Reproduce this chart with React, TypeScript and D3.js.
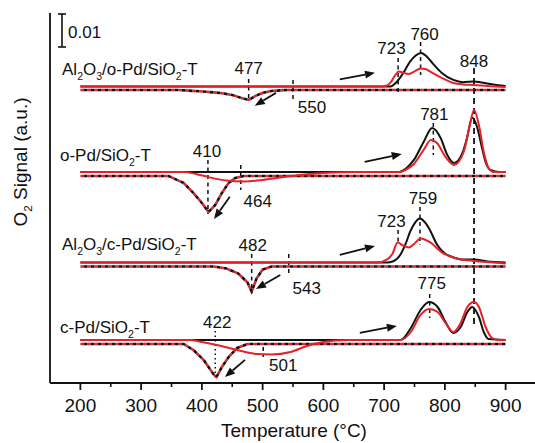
import React from "react";
import * as d3 from "d3";

type Pt = [number, number];

// ---------- axis ticks ----------
const MAJOR_TICKS = [200, 300, 400, 500, 600, 700, 800, 900];
const MINOR_TICKS = [250, 350, 450, 550, 650, 750, 850];

// ---------- sample names ----------
const SAMPLE_NAMES = ["Al2O3/o-Pd/SiO2-T", "o-Pd/SiO2-T", "Al2O3/c-Pd/SiO2-T", "c-Pd/SiO2-T"];

// ---------- signals (units of 1e-3 a.u., relative to each trace baseline) ----------
const g1Black: Pt[] = [[200,0],[710,0],[720,1.21],[730,3.64],[743,7.58],[752,9.39],[761,10.15],[770,9.09],[780,6.97],[795,4.09],[814,1.97],[830,1.3],[848,1.52],[860,1.21],[875,0.76],[900,0.15]];
const g1Red: Pt[] = [[200,0],[695,0],[705,0.3],[712,1.52],[718,3.33],[724,4.55],[732,4.09],[741,3.79],[750,4.55],[760,5.45],[768,5.3],[778,4.24],[790,3.03],[800,2.12],[814,1.06],[830,0.61],[848,0.45],[870,0.15],[900,-0.15]];
const g1Dotted: Pt[] = [[200,0],[360,0],[400,-0.45],[430,-0.91],[450,-1.52],[465,-2.42],[477,-3.03],[488,-1.82],[500,-0.91],[515,-0.3],[540,0],[900,0]];

const g2Black: Pt[] = [[200,0],[725,0],[735,0.91],[749,3.64],[765,9.09],[779,13.3],[793,10.3],[804,5.15],[815,2.73],[829,5.76],[836,10.0],[845,16.4],[853,13.6],[860,8.18],[867,3.03],[875,0.6],[890,0],[900,0]];
const g2Red: Pt[] = [[200,0],[370,0],[390,-0.6],[410,-1.52],[440,-2.58],[470,-2.88],[500,-2.42],[530,-1.67],[560,-0.91],[600,-0.3],[650,0],[725,0],[735,0.6],[749,2.42],[765,6.67],[777,9.7],[787,8.79],[801,4.55],[815,2.12],[831,6.06],[840,13.3],[848,18.8],[856,14.2],[864,6.06],[872,1.21],[880,0],[900,0]];
const g2Dotted: Pt[] = [[200,0],[345,0],[370,-2.12],[386,-5.15],[400,-8.18],[411,-10.9],[422,-8.79],[433,-5.15],[444,-2.12],[455,-0.6],[469,0],[900,0]];

const g3Black: Pt[] = [[200,0],[705,0],[714,0.3],[727,2.42],[735,5.45],[743,9.39],[751,12.1],[759,13.3],[766,12.4],[774,10.3],[787,5.45],[800,2.73],[810,1.82],[830,0.91],[848,0.91],[870,0.3],[900,0]];
const g3Red: Pt[] = [[200,0],[690,0],[705,0.91],[714,2.73],[722,6.06],[731,5.15],[741,4.55],[750,5.76],[760,7.27],[776,6.06],[795,3.03],[820,1.21],[848,0.45],[880,0],[900,-0.3]];
const g3Dotted: Pt[] = [[200,0],[420,0],[440,-0.6],[460,-2.12],[475,-4.85],[482,-7.58],[490,-3.64],[500,-0.91],[515,0],[900,0]];

const g4Black: Pt[] = [[200,0],[727,0],[744,3.64],[760,9.09],[774,11.5],[788,10.0],[801,5.45],[814,2.12],[826,3.94],[837,8.48],[845,10.0],[856,6.97],[864,2.42],[872,0.3],[900,0]];
const g4Red: Pt[] = [[200,0],[380,0],[400,-0.6],[425,-1.52],[458,-3.03],[491,-4.24],[515,-4.39],[546,-3.64],[573,-1.82],[600,-0.6],[640,0],[727,0],[744,2.42],[760,7.58],[774,9.39],[788,8.48],[801,5.15],[814,2.42],[826,5.15],[837,10.0],[848,11.5],[856,10.0],[867,3.94],[878,0.6],[890,0],[900,0]];
const g4Dotted: Pt[] = [[200,0],[370,0],[386,-1.82],[403,-4.85],[420,-9.39],[424,-10.0],[433,-6.97],[444,-3.94],[458,-1.21],[475,0],[900,0]];

const BLACK_SERIES = [g1Black, g2Black, g3Black, g4Black];
const RED_SERIES = [g1Red, g2Red, g3Red, g4Red];
const DOTTED_SERIES = [g1Dotted, g2Dotted, g3Dotted, g4Dotted];

// vertical offsets of the stacked traces (1e-3 a.u.)
const SOLID_BASE = [89.85, 63.94, 36.52, 13.03];
const DOTTED_BASE = [88.79, 62.73, 35.3, 11.82];

// ---------- peak annotations ----------
const PEAK_GROUP = [0, 0, 0, 0, 0, 1, 1, 1, 2, 2, 2, 2, 3, 3, 3];
const PEAK_TEMPS = [477, 550, 723, 760, 848, 410, 464, 781, 482, 543, 723, 759, 422, 501, 775];
// layout (px relative to x(T) and group baseline): label dx, label dy (center), marker y1, y2
const PEAK_LAYOUT: [number, number, number, number][] = [
  [0, -18.5, -7.5, 13.5],
  [19, 21, -6.5, 13.5],
  [-6.6, -38.5, -28.5, 8.5],
  [4, -52.5, -44.5, -11.5],
  [0, -25.5, -18.5, 241.5],
  [-1, -21, -12, 42],
  [17, 29, -7, 18],
  [1, -58, -49, -17],
  [1, -17.5, -8.5, 30.5],
  [18, 25.5, -8.5, 12.5],
  [-6.6, -41.5, -32.5, -17.5],
  [3, -64.5, -55.5, -17.5],
  [2, -18, -9, 38],
  [20, 25, 7, 17],
  [2, -57, -46, -22],
];

// ---------- arrows (T, signal) tail -> head ----------
const ARROWS: [number, number, number, number][] = [
  [627, 92.0, 685, 94.0],
  [522, 87.9, 487, 84.0],
  [668, 67.0, 729, 69.4],
  [446, 56.4, 420, 49.7],
  [627, 38.8, 685, 41.5],
  [529, 32.7, 489, 28.5],
  [660, 15.2, 721, 17.3],
  [471, 7.0, 438, 1.8],
];

// scale bar: 0.01 a.u.
const SCALE_BAR_VALUE = 10;
const SCALE_BAR_LABEL = "0.01";

const FONT = "'Liberation Sans', Arial, Helvetica, sans-serif";
const RED = "#e4222a";

function SubText({ text, x, y, size, anchor }: { text: string; x: number; y: number; size: number; anchor?: string }) {
  const parts = text.split(/(\d)/).filter((p) => p.length > 0);
  let shifted = false;
  return (
    <text x={x} y={y} fontSize={size} fontFamily={FONT} textAnchor={anchor || "start"} fill="#111">
      {parts.map((p, i) => {
        const isSub = /^\d$/.test(p);
        let dy = 0;
        if (isSub && !shifted) { dy = size * 0.28; shifted = true; }
        else if (!isSub && shifted) { dy = -size * 0.28; shifted = false; }
        return (
          <tspan key={i} dy={dy} fontSize={isSub ? size * 0.62 : size}>{p}</tspan>
        );
      })}
    </text>
  );
}

export default function App() {
  const x = d3.scaleLinear().domain([150, 950]).range([50, 536]);
  const y = d3.scaleLinear().domain([0, 112.1]).range([383, 13]);
  const mk = (base: number) =>
    d3.line<Pt>().x((d) => x(d[0])).y((d) => y(base + d[1])).curve(d3.curveMonotoneX);
  const mkLin = (base: number) =>
    d3.line<Pt>().x((d) => x(d[0])).y((d) => y(base + d[1])).curve(d3.curveLinear);

  const yAxisBottom = y(0);

  return (
    <svg width={535} height={443} style={{ position: "absolute", left: 0, top: 0, background: "#fff" }}>
      {/* axes */}
      <line x1={x(150)} x2={x(150)} y1={y(112.1)} y2={yAxisBottom} stroke="#111" strokeWidth={1.8} />
      <line x1={x(150)} x2={535} y1={yAxisBottom} y2={yAxisBottom} stroke="#111" strokeWidth={2} />
      {MAJOR_TICKS.map((t) => (
        <g key={"M" + t}>
          <line x1={x(t)} x2={x(t)} y1={yAxisBottom} y2={yAxisBottom + 7} stroke="#111" strokeWidth={1.8} />
          <text x={x(t)} y={412} fontSize={19} fontFamily={FONT} textAnchor="middle" fill="#111">{t}</text>
        </g>
      ))}
      {MINOR_TICKS.map((t) => (
        <line key={"m" + t} x1={x(t)} x2={x(t)} y1={yAxisBottom} y2={yAxisBottom + 4} stroke="#111" strokeWidth={1.6} />
      ))}
      <text x={294} y={437} fontSize={19} fontFamily={FONT} textAnchor="middle" fill="#111">Temperature (°C)</text>
      <g transform="translate(27,162) rotate(-90)">
        <SubText text="O2 Signal (a.u.)" x={0} y={0} size={19} anchor="middle" />
      </g>

      {/* scale bar */}
      <g stroke="#111" strokeWidth={1.6}>
        <line x1={x(169.75)} x2={x(169.75)} y1={y(101.8)} y2={y(101.8 + SCALE_BAR_VALUE)} />
        <line x1={x(169.75) - 4} x2={x(169.75) + 4} y1={y(101.8)} y2={y(101.8)} />
        <line x1={x(169.75) - 4} x2={x(169.75) + 4} y1={y(101.8 + SCALE_BAR_VALUE)} y2={y(101.8 + SCALE_BAR_VALUE)} />
      </g>
      <text x={68} y={38} fontSize={17} fontFamily={FONT} fill="#111">{SCALE_BAR_LABEL}</text>

      {/* peak markers */}
      {PEAK_TEMPS.map((t, i) => {
        const g = PEAK_GROUP[i];
        const by = y(SOLID_BASE[g]);
        const [dx, dy, y1, y2] = PEAK_LAYOUT[i];
        const dotted = t === 422 && g === 3;
        return (
          <g key={"p" + i}>
            <line x1={x(t)} x2={x(t)} y1={by + y1} y2={by + y2} stroke="#111"
              strokeWidth={t === 848 ? 1.8 : 1.5} strokeDasharray={dotted ? "1.5 3" : t === 848 ? "6 4" : "4 3.5"} />
            <text x={x(t) + dx} y={by + dy + 6} fontSize={17} fontFamily={FONT} textAnchor="middle" fill="#111">{t}</text>
          </g>
        );
      })}

      {/* traces */}
      {DOTTED_SERIES.map((s, i) => (
        <g key={"d" + i}>
          <path d={mkLin(DOTTED_BASE[i])(s) || ""} fill="none" stroke={RED} strokeWidth={2.6} strokeDasharray="3.5 3.5" />
          <path d={mkLin(DOTTED_BASE[i])(s) || ""} fill="none" stroke="#111" strokeWidth={2.6} strokeDasharray="3.5 3.5" strokeDashoffset={3.5} />
        </g>
      ))}
      {BLACK_SERIES.map((s, i) => (
        <path key={"b" + i} d={mk(SOLID_BASE[i])(s) || ""} fill="none" stroke="#111" strokeWidth={2} />
      ))}
      {RED_SERIES.map((s, i) => (
        <path key={"r" + i} d={mk(SOLID_BASE[i])(s) || ""} fill="none" stroke={RED} strokeWidth={2} />
      ))}

      {/* arrows */}
      {ARROWS.map(([t1, v1, t2, v2], i) => {
        const x1 = x(t1), y1 = y(v1), x2 = x(t2), y2 = y(v2);
        const ang = Math.atan2(y2 - y1, x2 - x1);
        const L = 10, Wd = 4;
        const bx = x2 - L * Math.cos(ang), by = y2 - L * Math.sin(ang);
        const px = -Math.sin(ang) * Wd, py = Math.cos(ang) * Wd;
        return (
          <g key={"a" + i}>
            <line x1={x1} y1={y1} x2={bx} y2={by} stroke="#111" strokeWidth={1.8} />
            <polygon points={`${x2},${y2} ${bx + px},${by + py} ${bx - px},${by - py}`} fill="#111" />
          </g>
        );
      })}

      {/* sample labels */}
      {SAMPLE_NAMES.map((n, i) => (
        <SubText key={"n" + i} text={n} x={i % 2 === 0 ? 62 : 60} y={y(SOLID_BASE[i]) + [-11.5, -11, -12.5, -7][i]} size={17} />
      ))}
    </svg>
  );
}
